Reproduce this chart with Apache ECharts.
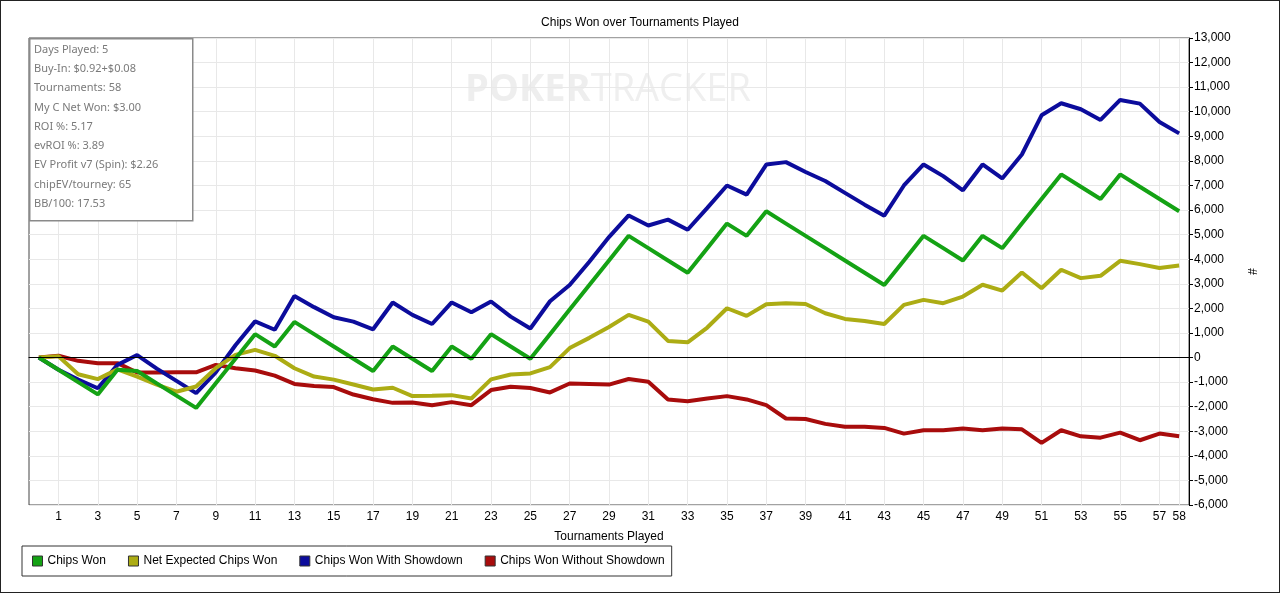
<!DOCTYPE html>
<html>
<head>
    <meta charset="UTF-8">
    <script src="https://cdn.jsdelivr.net/npm/echarts@6/dist/echarts.min.js"></script>
    <title>Chips Won over Tournaments Played</title>
    <style>
        html, body { margin: 0; padding: 0; background: #fff; }
        #box { width: 1280px; height: 593px; box-sizing: border-box; border: 1px solid #222; }
    </style>
</head>
<body>
    <div id="box"></div>
    <script>
        // tournaments played (0 = start)
        var tournaments = [];
        for (var t = 0; t <= 58; t++) tournaments.push(String(t));

        var chipsWon = [0, -500, -1000, -1500, -500, -550, -1050, -1550, -2050, -1050,
            -50, 950, 450, 1450, 950, 450, -50, -550, 450, -50,
            -550, 450, -50, 950, 450, -50, 950, 1950, 2950, 3950,
            4950, 4450, 3950, 3450, 4450, 5450, 4950, 5950, 5450, 4950,
            4450, 3950, 3450, 2950, 3950, 4950, 4450, 3950, 4950, 4450,
            5450, 6450, 7450, 6950, 6450, 7450, 6950, 6450, 5950];

        var netExpected = [0, 50, -680, -880, -480, -775, -1100, -1390, -1180, -435,
            110, 310, 70, -435, -775, -900, -1095, -1300, -1230, -1570,
            -1560, -1530, -1665, -890, -690, -645, -390, 385, 800, 1240,
            1735, 1460, 675, 620, 1220, 2005, 1695, 2170, 2210, 2180,
            1800, 1570, 1490, 1365, 2140, 2345, 2210, 2480, 2960, 2725,
            3460, 2820, 3570, 3230, 3325, 3935, 3800, 3640, 3745];

        var withShowdown = [0, -500, -900, -1250, -300, 100, -450, -950, -1450, -600,
            500, 1470, 1130, 2500, 2050, 1640, 1460, 1150, 2240, 1735,
            1365, 2240, 1840, 2280, 1665, 1180, 2290, 2950, 3900, 4900,
            5780, 5370, 5610, 5200, 6090, 7000, 6630, 7850, 7950, 7550,
            7180, 6700, 6220, 5770, 7000, 7855, 7380, 6805, 7855, 7285,
            8260, 9855, 10345, 10100, 9665, 10480, 10330, 9580, 9120];

        var withoutShowdown = [0, 70, -135, -230, -230, -610, -610, -600, -600, -300,
            -435, -530, -735, -1075, -1155, -1200, -1505, -1695, -1845, -1830,
            -1940, -1815, -1940, -1325, -1190, -1240, -1420, -1055, -1075, -1100,
            -875, -985, -1705, -1775, -1665, -1570, -1705, -1935, -2480, -2500,
            -2700, -2820, -2820, -2865, -3095, -2960, -2960, -2890, -2960, -2890,
            -2920, -3475, -2960, -3205, -3260, -3055, -3365, -3095, -3205];

        var infoLines = ['Days Played: 5', 'Buy-In: $0.92+$0.08', 'Tournaments: 58',
            'My C Net Won: $3.00', 'ROI %: 5.17', 'evROI %: 3.89',
            'EV Profit v7 (Spin): $2.26', 'chipEV/tourney: 65', 'BB/100: 17.53'];

        var font = '"Liberation Sans", Arial, sans-serif';

        // odd tournament numbers get a label, plus the last one
        function showTick(idx) {
            return idx % 2 === 1 || idx === 58;
        }

        var mychart = echarts.init(document.getElementById('box'));

        // info box drawn on top of the plot, top-left corner
        var infoBox = [{
            type: 'rect',
            left: 28,
            top: 37,
            z: 200,
            shape: { width: 163, height: 182 },
            style: { fill: '#fff', stroke: '#8a8a8a', lineWidth: 1.5 }
        }];
        infoLines.forEach(function (line, i) {
            infoBox.push({
                type: 'text',
                left: 33,
                top: 43 + i * 19.3,
                z: 201,
                style: { text: line, fill: '#7a7a7a', font: '11px "Noto Sans", "Open Sans", sans-serif' }
            });
        });

        var option = {
            animation: false,
            textStyle: { fontFamily: font },
            title: {
                text: 'Chips Won over Tournaments Played',
                left: 'center',
                top: 11,
                textStyle: { fontSize: 12, fontWeight: 'normal', color: '#000', fontFamily: font }
            },
            legend: {
                left: 21,
                top: 545,
                orient: 'horizontal',
                icon: 'rect',
                itemWidth: 10,
                itemHeight: 10,
                itemGap: 22,
                padding: [9, 7, 9, 10],
                borderColor: '#333',
                borderWidth: 1,
                textStyle: { fontSize: 12, color: '#000', fontFamily: font },
                itemStyle: { borderColor: '#333', borderWidth: 1 },
                data: ['Chips Won', 'Net Expected Chips Won', 'Chips Won With Showdown', 'Chips Won Without Showdown']
            },
            grid: {
                left: 28,
                right: 90,
                top: 37,
                bottom: 87,
                show: true,
                borderColor: '#444',
                borderWidth: 1
            },
            xAxis: {
                type: 'category',
                data: tournaments,
                boundaryGap: true,
                name: 'Tournaments Played',
                nameLocation: 'middle',
                nameGap: 26,
                nameTextStyle: { fontSize: 12, color: '#000', fontFamily: font },
                axisLine: { lineStyle: { color: '#000' } },
                axisTick: { interval: showTick, alignWithLabel: true, length: 5, lineStyle: { color: '#000' } },
                axisLabel: { interval: showTick, fontSize: 12, color: '#000', margin: 6 },
                splitLine: { show: true, interval: showTick, alignWithLabel: true, lineStyle: { color: '#e8e8e8' } }
            },
            yAxis: {
                type: 'value',
                position: 'right',
                min: -6000,
                max: 13000,
                interval: 1000,
                name: '#',
                nameLocation: 'middle',
                nameGap: 56,
                nameRotate: -90,
                nameTextStyle: { fontSize: 12, color: '#000', fontFamily: font },
                axisLine: { show: true, lineStyle: { color: '#000' } },
                axisTick: { show: true, length: 4, lineStyle: { color: '#000' } },
                axisLabel: {
                    fontSize: 12, color: '#000', margin: 5,
                    formatter: function (v) { return v.toLocaleString('en-US'); }
                },
                splitLine: { lineStyle: { color: '#e8e8e8' } }
            },
            graphic: [
                {
                    type: 'text',
                    left: 464,
                    top: 70,
                    z: 0,
                    style: {
                        text: '{a|POKER}{b|TRACKER}',
                        rich: {
                            a: { fontSize: 38, fontWeight: 'bold', fill: '#eeeeee', fontFamily: '"Open Sans", sans-serif' },
                            b: { fontSize: 38, fontWeight: 'normal', fill: '#efefef', fontFamily: '"Open Sans", sans-serif' }
                        }
                    }
                }
            ].concat(infoBox),
            series: [
                {
                    name: 'Chips Won Without Showdown',
                    type: 'line',
                    data: withoutShowdown,
                    showSymbol: false,
                    color: '#a80c0c',
                    lineStyle: { width: 4, color: '#a80c0c' },
                    markLine: {
                        silent: true,
                        symbol: 'none',
                        label: { show: false },
                        lineStyle: { color: '#000', width: 1, type: 'solid' },
                        data: [{ yAxis: 0 }]
                    }
                },
                {
                    name: 'Chips Won With Showdown',
                    type: 'line',
                    data: withShowdown,
                    showSymbol: false,
                    color: '#0c0c9c',
                    lineStyle: { width: 4, color: '#0c0c9c' }
                },
                {
                    name: 'Net Expected Chips Won',
                    type: 'line',
                    data: netExpected,
                    showSymbol: false,
                    color: '#acac14',
                    lineStyle: { width: 4, color: '#acac14' }
                },
                {
                    name: 'Chips Won',
                    type: 'line',
                    data: chipsWon,
                    showSymbol: false,
                    color: '#14a214',
                    lineStyle: { width: 4, color: '#14a214' }
                }
            ]
        };

        mychart.setOption(option);
    </script>
</body>
</html>
